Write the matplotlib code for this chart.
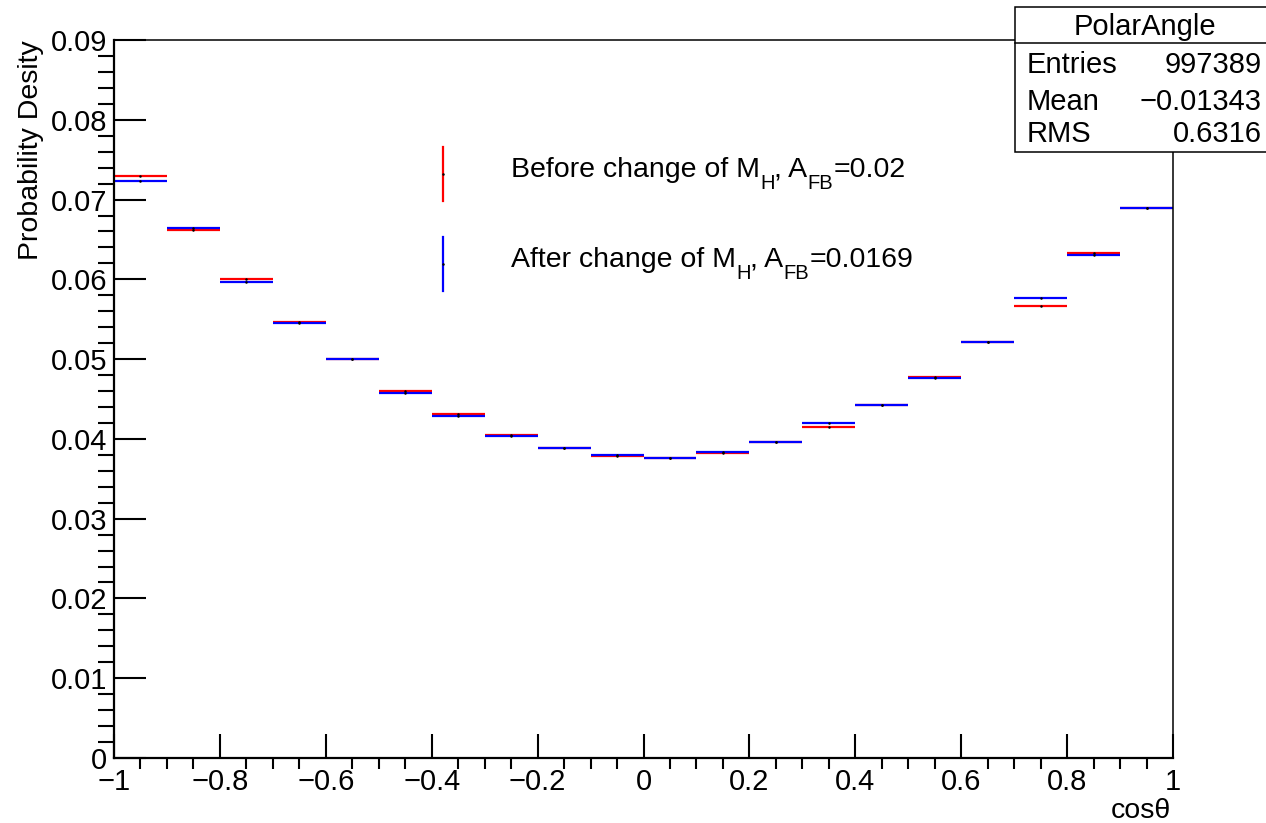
import numpy as np
import matplotlib
matplotlib.use("Agg")
import matplotlib.pyplot as plt
from matplotlib.lines import Line2D
from matplotlib.patches import Rectangle
from matplotlib.ticker import MultipleLocator, FuncFormatter

plt.rcParams['font.family'] = ['Liberation Sans', 'DejaVu Sans']

# bin edges / centres of the cos(theta) histogram
edges = np.linspace(-1, 1, 21)
centers = 0.5 * (edges[:-1] + edges[1:])
half_width = 0.05

# probability per bin
before = [0.0730, 0.0662, 0.0600, 0.0546, 0.0500, 0.0460, 0.0431, 0.0405, 0.0389, 0.0378,
          0.0376, 0.0382, 0.0396, 0.0415, 0.0443, 0.0478, 0.0521, 0.0567, 0.0633, 0.0690]
after = [0.0723, 0.0664, 0.0597, 0.0545, 0.0500, 0.0458, 0.0429, 0.0404, 0.0389, 0.0380,
         0.0376, 0.0383, 0.0396, 0.0420, 0.0443, 0.0476, 0.0521, 0.0577, 0.0631, 0.0690]

# legend labels as (text, is_subscript) pieces, ROOT-style subscripts
labels = [[("Before change of M", False), ("H", True), (", A", False), ("FB", True), ("=0.02", False)],
          [("After change of M", False), ("H", True), (", A", False), ("FB", True), ("=0.0169", False)]]
colors = ["red", "blue"]

stats_title = "PolarAngle"
stats_names = ["Entries", "Mean", "RMS"]
stats_values = ["997389", "\u22120.01343", "0.6316"]

W, H = 1266, 823
def fx(px):
    return px / W
def fy(py):
    return 1 - py / H

fig = plt.figure(figsize=(W / 100, H / 100), dpi=100)
ax = fig.add_axes([fx(114), fy(758), fx(1173) - fx(114), fy(40) - fy(758)])

for vals, c in zip([before, after], colors):
    ax.errorbar(centers, vals, xerr=half_width, fmt='none', ecolor=c, elinewidth=1.6, capsize=0)
for vals in [before, after]:
    ax.plot(centers, vals, 'o', color='black', ms=1.8, mew=0, zorder=5)

def root_fmt(v, pos):
    s = "%g" % round(v, 6)
    return s.replace("-", "\u2212")

ax.set_xlim(-1, 1)
ax.set_ylim(0, 0.09)
ax.xaxis.set_major_locator(MultipleLocator(0.2))
ax.xaxis.set_minor_locator(MultipleLocator(0.05))
ax.yaxis.set_major_locator(MultipleLocator(0.01))
ax.yaxis.set_minor_locator(MultipleLocator(0.002))
ax.xaxis.set_major_formatter(FuncFormatter(root_fmt))
ax.yaxis.set_major_formatter(FuncFormatter(root_fmt))
ax.tick_params(direction='in', labelsize=21, width=1.5, top=False, right=False)
ax.tick_params(axis='y', which='major', length=23, pad=5)
ax.tick_params(axis='y', which='minor', length=11.5, width=1.5)
ax.tick_params(axis='x', which='major', length=17, pad=7)
ax.tick_params(axis='x', which='minor', length=8, width=1.5)
for s in ['left', 'bottom']:
    ax.spines[s].set_linewidth(1.6)
for s in ['top', 'right']:
    ax.spines[s].set_linewidth(1.1)

fig.text(fx(1171), fy(818), "cos\u03b8", fontsize=20.5, ha='right', va='baseline')
fig.text(fx(31), fy(40), "Probability Desity", fontsize=20.5, rotation=90, ha='center', va='top')

# legend
renderer = fig.canvas.get_renderer()
leg_y = [(147, 201, 177), (237, 291, 267)]
for (y0, y1, yb), c, pieces in zip(leg_y, colors, labels):
    fig.add_artist(Line2D([fx(443), fx(443)], [fy(y0), fy(y1)], color=c, lw=1.6))
    fig.add_artist(Line2D([fx(443)], [fy((y0 + y1) / 2)], marker='o', color='black', ms=1.8, mew=0))
    xpos = 511
    for txt, sub in pieces:
        size = 14.5 if sub else 20.5
        ypos = yb + 12 if sub else yb
        t = fig.text(fx(xpos), fy(ypos), txt, fontsize=size, ha='left', va='baseline')
        xpos += t.get_window_extent(renderer).width

# stats box
fig.add_artist(Rectangle((fx(1015), fy(152)), fx(1266) - fx(1015) + 0.01, fy(7) - fy(152),
                         transform=fig.transFigure, facecolor='white', edgecolor='black',
                         lw=1.1, zorder=10))
fig.add_artist(Line2D([fx(1015), 1.0], [fy(43), fy(43)], color='black', lw=1.1, zorder=11))
fig.text(fx(1145), fy(35), stats_title, fontsize=21, ha='center', va='baseline', zorder=12)
for i, (n, v) in enumerate(zip(stats_names, stats_values)):
    yb = [73, 110, 142][i]
    fig.text(fx(1027), fy(yb), n, fontsize=21, ha='left', va='baseline', zorder=12)
    fig.text(fx(1262), fy(yb), v, fontsize=21, ha='right', va='baseline', zorder=12)

fig.savefig("out.png", dpi=100)
